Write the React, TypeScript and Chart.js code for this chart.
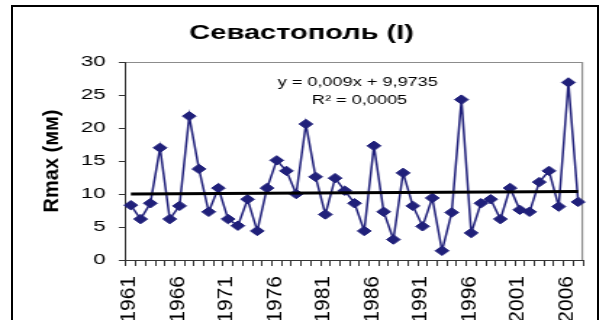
import React, { useEffect, useRef } from 'react';
import { Chart, registerables } from 'chart.js';

Chart.register(...registerables);

const YEARS = [
  '1961', '1962', '1963', '1964', '1965', '1966', '1967', '1968', '1969', '1970',
  '1971', '1972', '1973', '1974', '1975', '1976', '1977', '1978', '1979', '1980',
  '1981', '1982', '1983', '1984', '1985', '1986', '1987', '1988', '1989', '1990',
  '1991', '1992', '1993', '1994', '1995', '1996', '1997', '1998', '1999', '2000',
  '2001', '2002', '2003', '2004', '2005', '2006', '2007',
];

const RMAX = [
  8.3, 6.2, 8.6, 17.0, 6.2, 8.2, 21.8, 13.8, 7.3, 10.9,
  6.2, 5.2, 9.2, 4.4, 10.9, 15.1, 13.5, 10.0, 20.6, 12.6,
  6.9, 12.4, 10.5, 8.6, 4.4, 17.3, 7.3, 3.1, 13.2, 8.2,
  5.1, 9.4, 1.4, 7.2, 24.3, 4.1, 8.6, 9.2, 6.2, 10.9,
  7.6, 7.3, 11.8, 13.5, 8.1, 26.9, 8.8,
];

const TREND_SLOPE = 0.009;
const TREND_INTERCEPT = 9.9735;

const Y_MIN = 0;
const Y_MAX = 30;
const Y_STEP = 5;
const LABEL_EVERY = 5;

const TITLE = 'Севастополь (I)';
const Y_TITLE = 'Rmax (мм)';
const EQ_LINES = ['y = 0,009x + 9,9735', 'R² = 0,0005'];

const FAMILY = '"Liberation Sans", Arial, Helvetica, sans-serif';
const STRETCH = 1.45;
const CW = 416;
const CH = 350;
const SIDE_PAD = CW - 583 / STRETCH;
const GLYPH_SQUEEZE = 0.72;

const trend = YEARS.map((_, i) =>
  i === 0 || i === YEARS.length - 1 ? TREND_INTERCEPT + TREND_SLOPE * (i + 1) : null
);

const plotFrame = {
  id: 'plotFrame',
  beforeDatasetsDraw(chart: any) {
    const { ctx, chartArea } = chart;
    const { left, right, top, bottom } = chartArea;
    ctx.save();
    ctx.strokeStyle = '#8c8c8c';
    ctx.lineWidth = 1.2;
    ctx.beginPath();
    ctx.moveTo(left, top + 0.5);
    ctx.lineTo(right - 0.5, top + 0.5);
    ctx.lineTo(right - 0.5, bottom);
    ctx.stroke();
    ctx.restore();
  },
};

const equation = {
  id: 'equation',
  afterDatasetsDraw(chart: any) {
    const { ctx, chartArea } = chart;
    const { left, top, width } = chartArea;
    ctx.save();
    ctx.font = `12.5px ${FAMILY}`;
    ctx.fillStyle = '#000';
    ctx.textAlign = 'center';
    ctx.textBaseline = 'middle';
    ctx.fillText(EQ_LINES[0], left + width * 0.507, top + 21);
    ctx.fillText(EQ_LINES[1], left + width * 0.511, top + 38.5);
    ctx.restore();
  },
};

// rotated texts (year labels, y-axis title): glyph height is compressed so that
// it survives the page's horizontal stretch
const rotatedTexts = {
  id: 'rotatedTexts',
  afterDraw(chart: any) {
    const { ctx, chartArea } = chart;
    const xs = chart.scales.x;

    const size = 21;
    const cap = 0.716 * size;
    ctx.save();
    ctx.font = `${size}px ${FAMILY}`;
    ctx.fillStyle = '#000';
    ctx.textAlign = 'right';
    ctx.textBaseline = 'alphabetic';
    YEARS.forEach((lab, i) => {
      if (i % LABEL_EVERY !== 0) return;
      const px = xs.getPixelForValue(i) - 2.6;
      ctx.save();
      ctx.translate(px, xs.top + 16);
      ctx.rotate(-Math.PI / 2);
      ctx.scale(1, GLYPH_SQUEEZE);
      ctx.fillText(lab, 0, cap / 2);
      ctx.restore();
    });

    const tSize = 20;
    ctx.font = `bold ${tSize}px ${FAMILY}`;
    ctx.textAlign = 'center';
    ctx.translate(34.8, (chartArea.top + chartArea.bottom) / 2);
    ctx.rotate(-Math.PI / 2);
    ctx.scale(1, GLYPH_SQUEEZE);
    ctx.fillText(Y_TITLE, 0, (0.716 * tSize) / 2);
    ctx.restore();
  },
};

export default function App() {
  const ref = useRef<HTMLCanvasElement | null>(null);

  useEffect(() => {
    document.body.style.margin = '0';
    const canvas = ref.current;
    if (!canvas) return;
    Chart.defaults.font.family = FAMILY;
    const chart = new Chart(canvas, {
      type: 'line',
      data: {
        labels: YEARS,
        datasets: [
          {
            data: trend,
            borderColor: '#000',
            borderWidth: 3,
            pointRadius: 0,
            spanGaps: true,
            order: 0,
          },
          {
            data: RMAX,
            borderColor: '#20207a',
            backgroundColor: '#20207a',
            borderWidth: 1.5,
            pointStyle: 'rectRot',
            pointRadius: 4.7,
            pointBorderWidth: 1,
            pointBackgroundColor: '#20207a',
            pointBorderColor: '#20207a',
            order: 1,
          },
        ],
      },
      options: {
        responsive: false,
        animation: false,
        layout: { padding: { left: SIDE_PAD, right: SIDE_PAD, top: 0, bottom: 0 } },
        plugins: {
          legend: { display: false },
          tooltip: { enabled: false },
          title: {
            display: true,
            text: TITLE,
            color: '#000',
            font: { size: 20, weight: 'bold', family: FAMILY },
            padding: { top: 21, bottom: 17 },
          },
        },
        scales: {
          x: {
            type: 'category',
            offset: true,
            grid: {
              offset: true,
              drawOnChartArea: false,
              drawTicks: true,
              tickLength: 6,
              color: '#333',
            },
            border: { color: '#333', width: 1 },
            ticks: { display: false, autoSkip: false },
            afterFit: (s: any) => {
              s.height = CH - 260;
            },
          },
          y: {
            min: Y_MIN,
            max: Y_MAX,
            ticks: { stepSize: Y_STEP, padding: 9, color: '#000', font: { size: 15.5 } },
            grid: { drawOnChartArea: false, tickLength: 5, color: '#333' },
            border: { color: '#333', width: 1 },
            title: { display: false },
            afterFit: (s: any) => {
              s.width = 126 / STRETCH - SIDE_PAD;
            },
          },
        },
      },
      plugins: [plotFrame, equation, rotatedTexts],
    } as any);
    return () => chart.destroy();
  }, []);

  return (
    <div style={{ position: 'relative', width: 603, height: 320, overflow: 'hidden', background: '#fff' }}>
      <div
        style={{
          position: 'absolute',
          left: 0,
          top: 0,
          width: CW,
          height: CH,
          transform: `scaleX(${STRETCH})`,
          transformOrigin: '0 0',
        }}
      >
        <canvas ref={ref} width={CW} height={CH} style={{ display: 'block', width: CW, height: CH }} />
      </div>
      <div
        style={{
          position: 'absolute',
          left: 11,
          top: 5,
          width: 588,
          height: 400,
          boxSizing: 'border-box',
          border: '2px solid #000',
          pointerEvents: 'none',
        }}
      />
    </div>
  );
}
